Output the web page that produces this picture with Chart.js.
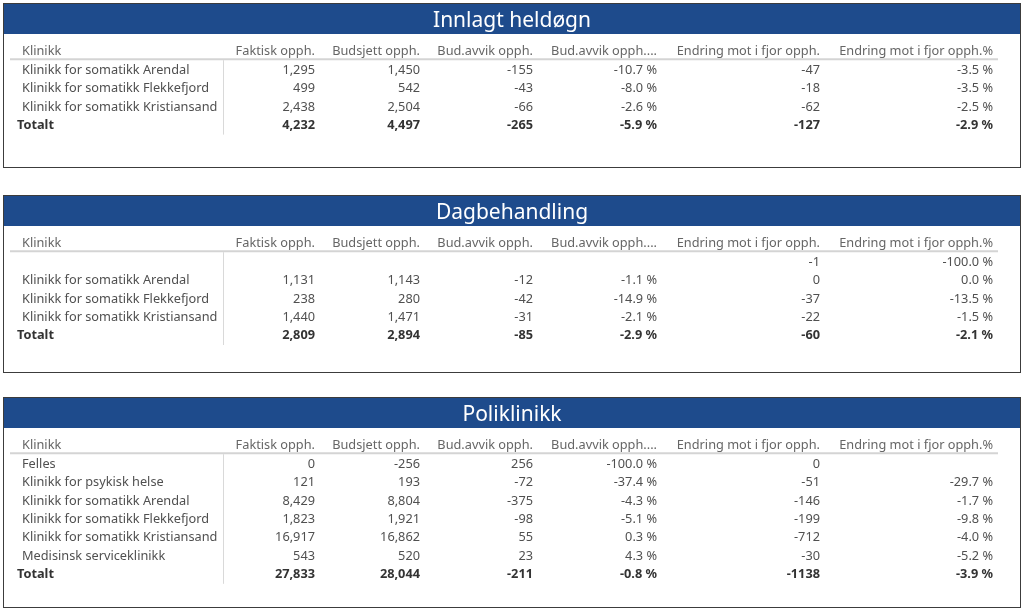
<!DOCTYPE html>
<html>
<head>
<meta charset="utf-8">
<script src="https://cdn.jsdelivr.net/npm/chart.js@4/dist/chart.umd.min.js"></script>
<style>
  body { margin: 0; background: #fff; width: 1024px; height: 611px; overflow: hidden; }
  .panel { position: absolute; left: 3px; width: 1016px; border: 1px solid #3c3c3c; background: #fff; }
  .panel canvas { display: block; }
</style>
</head>
<body>
<div class="panel" id="p1" style="top:3px;height:163px"><canvas id="c1" width="1016" height="163"></canvas></div>
<div class="panel" id="p2" style="top:195px;height:176px"><canvas id="c2" width="1016" height="176"></canvas></div>
<div class="panel" id="p3" style="top:397px;height:209px"><canvas id="c3" width="1016" height="209"></canvas></div>
<script>
// column headers (same for all three tables)
const columns = ['Faktisk opph.', 'Budsjett opph.', 'Bud.avvik opph.', 'Bud.avvik opph....', 'Endring mot i fjor opph.', 'Endring mot i fjor opph.%']
const columnFormat = ['n', 'n', 'n', 'p', 'i', 'p']

// Innlagt heldøgn
const klinikk1 = ['Klinikk for somatikk Arendal', 'Klinikk for somatikk Flekkefjord', 'Klinikk for somatikk Kristiansand', 'Totalt']
const faktisk1 = [1295, 499, 2438, 4232]
const budsjett1 = [1450, 542, 2504, 4497]
const avvik1 = [-155, -43, -66, -265]
const avvikPct1 = [-10.7, -8.0, -2.6, -5.9]
const endring1 = [-47, -18, -62, -127]
const endringPct1 = [-3.5, -3.5, -2.5, -2.9]

// Dagbehandling
const klinikk2 = ['', 'Klinikk for somatikk Arendal', 'Klinikk for somatikk Flekkefjord', 'Klinikk for somatikk Kristiansand', 'Totalt']
const faktisk2 = [null, 1131, 238, 1440, 2809]
const budsjett2 = [null, 1143, 280, 1471, 2894]
const avvik2 = [null, -12, -42, -31, -85]
const avvikPct2 = [null, -1.1, -14.9, -2.1, -2.9]
const endring2 = [-1, 0, -37, -22, -60]
const endringPct2 = [-100.0, 0.0, -13.5, -1.5, -2.1]

// Poliklinikk
const klinikk3 = ['Felles', 'Klinikk for psykisk helse', 'Klinikk for somatikk Arendal', 'Klinikk for somatikk Flekkefjord', 'Klinikk for somatikk Kristiansand', 'Medisinsk serviceklinikk', 'Totalt']
const faktisk3 = [0, 121, 8429, 1823, 16917, 543, 27833]
const budsjett3 = [-256, 193, 8804, 1921, 16862, 520, 28044]
const avvik3 = [256, -72, -375, -98, 55, 23, -211]
const avvikPct3 = [-100.0, -37.4, -4.3, -5.1, 0.3, 4.3, -0.8]
const endring3 = [0, -51, -146, -199, -712, -30, -1138]
const endringPct3 = [null, -29.7, -1.7, -9.8, -4.0, -5.2, -3.9]

// table layout (column right edges in table units, like column widths)
const colRight = [311, 416, 529, 653, 816, 989]
const labelLeft = 18
const totalLeft = 13
const sepX = 219
const ruleFrom = 6, ruleTo = 994
const rowH = 18.4
const headerCenter = 47.8
const barH = 30
const FONT = '"Noto Sans", "Open Sans", sans-serif'

function fmt(v, kind) {
	if (v === null || v === undefined) return ''
	if (kind === 'p') return v.toFixed(1) + ' %'
	if (kind === 'i') return String(v)
	return v.toLocaleString('en-US')
}

const tablePlugin = {
	id: 'tableText',
	beforeDraw(chart) {
		const ctx = chart.ctx
		ctx.save()
		ctx.fillStyle = '#1e4b8c'
		ctx.fillRect(0, 0, chart.width, barH)
		ctx.restore()
	},
	afterDatasetsDraw(chart) {
		const ctx = chart.ctx
		const x = chart.scales.x
		const y = chart.scales.y
		const n = y.getLabels().length
		ctx.save()
		// header underline + column separator
		const ruleY = y.getPixelForValue(0.4)
		ctx.strokeStyle = '#d4d4d4'
		ctx.lineWidth = 2
		ctx.beginPath()
		ctx.moveTo(x.getPixelForValue(ruleFrom), ruleY)
		ctx.lineTo(x.getPixelForValue(ruleTo), ruleY)
		ctx.stroke()
		ctx.strokeStyle = '#d9d9d9'
		ctx.lineWidth = 1
		ctx.beginPath()
		ctx.moveTo(Math.round(x.getPixelForValue(sepX)) + 0.5, ruleY + 1)
		ctx.lineTo(Math.round(x.getPixelForValue(sepX)) + 0.5, y.getPixelForValue(n - 0.5))
		ctx.stroke()

		ctx.textBaseline = 'middle'
		chart.data.datasets.forEach((ds, di) => {
			const meta = chart.getDatasetMeta(di)
			meta.data.forEach((pt, i) => {
				const raw = ds.data[i]
				if (raw.text === '') return
				const bold = raw.total
				ctx.font = (bold ? 'bold ' : '') + '12.75px ' + FONT
				ctx.fillStyle = raw.head ? '#666666' : (bold ? '#333333' : '#505050')
				ctx.textAlign = ds.align
				ctx.fillText(raw.text, pt.x, pt.y)
			})
		})
		ctx.restore()
	}
}

function makeTable(canvasId, title, labels, cols) {
	const rows = ['Klinikk'].concat(labels)
	const datasets = []
	// label column
	datasets.push({
		align: 'left',
		data: rows.map((r, i) => ({
			x: r === 'Totalt' ? totalLeft : labelLeft,
			y: i,
			text: r,
			head: i === 0,
			total: r === 'Totalt'
		}))
	})
	cols.forEach((vals, c) => {
		datasets.push({
			align: 'right',
			data: rows.map((r, i) => ({
				x: colRight[c],
				y: i,
				text: i === 0 ? columns[c] : fmt(vals[i - 1], columnFormat[c]),
				head: i === 0,
				total: r === 'Totalt'
			}))
		})
	})
	const canvas = document.getElementById(canvasId)
	const h = canvas.height
	const top = headerCenter - rowH / 2
	new Chart(canvas.getContext('2d'), {
		type: 'scatter',
		data: { datasets: datasets },
		options: {
			responsive: false,
			animation: false,
			devicePixelRatio: 1,
			events: [],
			elements: { point: { radius: 0 } },
			layout: { padding: { left: 0, right: 0, top: 0, bottom: h - top - rows.length * rowH } },
			scales: {
				x: { type: 'linear', min: 0, max: canvas.width, display: false },
				y: { type: 'category', labels: rows, offset: true, display: false }
			},
			plugins: {
				legend: { display: false },
				tooltip: { enabled: false },
				title: {
					display: true,
					text: title,
					color: '#ffffff',
					font: { family: FONT, size: 21, weight: 'normal', lineHeight: 1.2 },
					padding: { top: 4, bottom: top - 4 - 25.2 }
				}
			}
		},
		plugins: [tablePlugin]
	})
}

makeTable('c1', 'Innlagt heldøgn', klinikk1, [faktisk1, budsjett1, avvik1, avvikPct1, endring1, endringPct1])
makeTable('c2', 'Dagbehandling', klinikk2, [faktisk2, budsjett2, avvik2, avvikPct2, endring2, endringPct2])
makeTable('c3', 'Poliklinikk', klinikk3, [faktisk3, budsjett3, avvik3, avvikPct3, endring3, endringPct3])
</script>
</body>
</html>
